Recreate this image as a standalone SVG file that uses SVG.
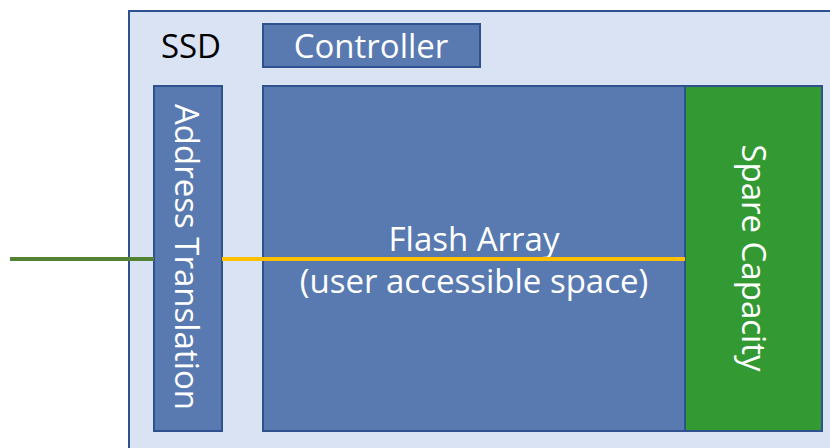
<svg xmlns="http://www.w3.org/2000/svg" width="830" height="448" viewBox="0 0 830 448">
<style>
.box{fill:#587AB0;stroke:#2F528F;stroke-width:2}
.t{font-family:"Open Sans","Liberation Sans",sans-serif;font-size:33px;fill:#fff;text-anchor:middle}
</style>
<rect width="830" height="448" fill="#fff"/>
<g id="ssd">
<rect x="129" y="11" width="720" height="460" fill="#DAE3F3" stroke="#2F528F" stroke-width="2"/>
<text x="191" y="58" class="t" style="fill:#000">SSD</text>
</g>
<g id="controller">
<rect class="box" x="263" y="24" width="217" height="43"/>
<text x="371" y="58" class="t">Controller</text>
</g>
<g id="address-translation">
<rect class="box" x="154" y="86" width="68" height="345"/>
<text class="t" transform="translate(175,257) rotate(90)">Address Translation</text>
</g>
<g id="flash-array">
<rect class="box" x="263" y="86" width="422" height="345"/>
<text x="474" y="251" class="t">Flash Array</text>
<text x="474" y="293" class="t">(user accessible space)</text>
</g>
<g id="spare-capacity">
<rect x="685" y="86" width="137" height="345" fill="#339933" stroke="#2F528F" stroke-width="2"/>
<text class="t" transform="translate(742,258) rotate(90)">Spare Capacity</text>
</g>
<g id="connectors">
<line x1="10" y1="259" x2="154" y2="259" stroke="#548235" stroke-width="4"/>
<line x1="222" y1="259" x2="685" y2="259" stroke="#FFC000" stroke-width="4"/>
</g>
</svg>
